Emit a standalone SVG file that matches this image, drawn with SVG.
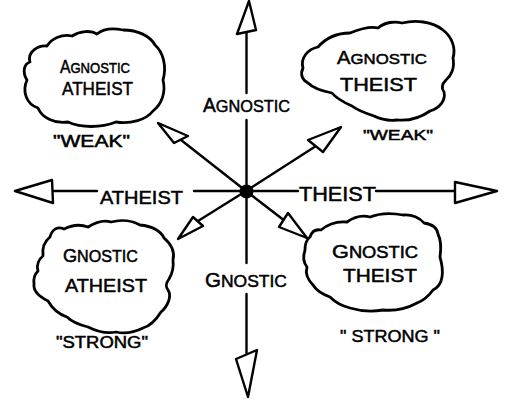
<svg xmlns="http://www.w3.org/2000/svg" width="508" height="408" viewBox="0 0 508 408">
<style>
.ln{stroke:#000;stroke-width:2.4;fill:none;stroke-linecap:round;stroke-linejoin:round}
.hd{stroke:#000;stroke-width:2.4;fill:#fff;stroke-linejoin:round}
.cl{stroke:#000;stroke-width:2.8;fill:#fff;stroke-linejoin:round}
.t{font-family:"Liberation Sans",Arial,sans-serif;font-size:17px;fill:#000;stroke:#000;stroke-width:0.5}
.b{font-size:20px}
</style>
<rect width="508" height="408" fill="#fff"/>
<g id="connectors">
  <line class="ln" x1="246.5" y1="32" x2="246.5" y2="93"/>
  <line class="ln" x1="246.5" y1="120" x2="246.5" y2="186"/>
  <line class="ln" x1="246.5" y1="198" x2="246.5" y2="263"/>
  <line class="ln" x1="246.5" y1="294" x2="246.5" y2="354"/>
  <line class="ln" x1="52" y1="191" x2="97" y2="191"/>
  <line class="ln" x1="194" y1="191" x2="240" y2="191"/>
  <line class="ln" x1="253" y1="191" x2="298" y2="191"/>
  <line class="ln" x1="376" y1="191" x2="455" y2="191"/>
  <line class="ln" x1="246" y1="191" x2="181" y2="140"/>
  <line class="ln" x1="246" y1="191" x2="316" y2="146"/>
  <line class="ln" x1="246" y1="191" x2="198" y2="221"/>
  <line class="ln" x1="246" y1="191" x2="307" y2="238"/>
  <polygon class="hd" points="249,1 237,34 256,30"/>
  <polygon class="hd" points="236,359 257,350 248,397"/>
  <polygon class="hd" points="15,191 52,180 53,203"/>
  <polygon class="hd" points="497,191 455,182 455,203"/>
  <polygon class="hd" points="158,123 174,143 188,136"/>
  <polygon class="hd" points="341,127 308,140 323,152"/>
  <polygon class="hd" points="178,239 193,217 203,226"/>
  <polygon class="hd" points="307,238 288,213 279,227"/>
  <circle cx="246.5" cy="191.5" r="7" fill="#000"/>
</g>
<g id="axis-labels">
  <text class="t" x="203" y="112" textLength="87" lengthAdjust="spacingAndGlyphs"><tspan class="b">A</tspan>GNOSTIC</text>
  <text class="t" x="205" y="287" textLength="82" lengthAdjust="spacingAndGlyphs"><tspan class="b">G</tspan>NOSTIC</text>
  <text class="t" x="100" y="204" textLength="83" lengthAdjust="spacingAndGlyphs" style="font-size:19px">ATHEIST</text>
  <text class="t" x="299" y="201" textLength="77" lengthAdjust="spacingAndGlyphs" style="font-size:20px">THEIST</text>
</g>
<g id="agnostic-atheist">
  <path class="cl" d="M30 62 C27 52 38 45 47 46 C52 38 62 34 72 36 C80 31 91 30 97 34 C103 29 113 28 123 30 C138 30 150 36 155 45 C163 52 167 66 163 80 C166 92 162 104 153 111 C146 120 131 124 116 122 C101 128 81 128 68 122 C55 124 42 118 38 108 C26 104 22 91 27 80 C22 72 24 64 30 62 Z"/>
  <text class="t" x="60" y="73" textLength="70" lengthAdjust="spacingAndGlyphs" style="font-size:15px"><tspan style="font-size:18px">A</tspan>GNOSTIC</text>
  <text class="t" x="62" y="95" textLength="71" lengthAdjust="spacingAndGlyphs" style="font-size:19px">ATHEIST</text>
  <text class="t" x="53" y="147" textLength="77" lengthAdjust="spacingAndGlyphs" style="font-size:16px">"WEAK"</text>
</g>
<g id="agnostic-theist">
  <path class="cl" d="M303 68 C300 58 308 49 318 47 C326 38 338 33 350 33 C360 29 370 26 378 28 C385 22 395 21 402 23 C415 20 432 21 443 30 C452 37 456 48 453 58 C455 68 451 76 446 80 C442 84 441 88 444 92 C446 100 440 108 430 111 C420 118 408 121 397 120 C388 121 380 119 374 116 C365 113 357 110 352 106 C343 102 336 98 332 93 C322 91 313 88 308 83 C302 80 300 74 303 68 Z"/>
  <text class="t" x="337" y="64" textLength="90" lengthAdjust="spacingAndGlyphs" style="font-size:15px"><tspan style="font-size:18px">A</tspan>GNOSTIC</text>
  <text class="t" x="340" y="91" textLength="77" lengthAdjust="spacingAndGlyphs" style="font-size:18px">THEIST</text>
  <text class="t" x="363" y="140" textLength="70" lengthAdjust="spacingAndGlyphs" style="font-size:15px">"WEAK"</text>
</g>
<g id="gnostic-atheist">
  <path class="cl" d="M50 237 C52 229 58 226 64 229 C72 225 80 224 88 227 C96 222 104 220 111 222 C122 219 133 221 140 225 C152 226 161 231 164 238 C171 244 175 252 173 260 C174 268 172 274 169 279 C166 283 165 286 168 290 C172 296 168 306 161 312 C156 320 150 326 143 328 C133 333 124 334 116 332 C106 334 96 331 88 327 C80 325 72 322 67 317 C58 314 52 308 48 301 C40 297 33 291 34 284 C33 278 35 274 38 271 C36 265 39 259 43 256 C42 248 45 241 50 237 Z"/>
  <text class="t" x="63" y="262" textLength="75" lengthAdjust="spacingAndGlyphs" style="font-size:16px"><tspan style="font-size:18px">G</tspan>NOSTIC</text>
  <text class="t" x="65" y="292" textLength="82" lengthAdjust="spacingAndGlyphs" style="font-size:19px">ATHEIST</text>
  <text class="t" x="56" y="348" textLength="92" lengthAdjust="spacingAndGlyphs" style="font-size:16px">"STRONG"</text>
</g>
<g id="gnostic-theist">
  <path class="cl" d="M310 237 C312 231 316 229 321 230 C328 224 337 221 347 222 C354 217 362 215 370 217 C380 213 393 213 403 215 C412 214 420 218 424 223 C432 224 437 228 438 234 C442 242 441 250 440 257 C442 264 443 271 442 277 C441 284 437 288 433 290 C428 297 422 301 417 303 C406 309 394 311 383 310 C372 312 360 311 350 308 C342 306 335 302 330 297 C322 294 316 290 313 285 C308 280 305 274 307 267 C303 262 303 256 305 250 C305 244 306 240 310 237 Z"/>
  <text class="t" x="332" y="258" textLength="86" lengthAdjust="spacingAndGlyphs" style="font-size:16px"><tspan style="font-size:19px">G</tspan>NOSTIC</text>
  <text class="t" x="343" y="282" textLength="74" lengthAdjust="spacingAndGlyphs" style="font-size:19px">THEIST</text>
  <text class="t" x="340" y="342" textLength="100" lengthAdjust="spacingAndGlyphs" style="font-size:17px">" STRONG "</text>
</g>
</svg>
